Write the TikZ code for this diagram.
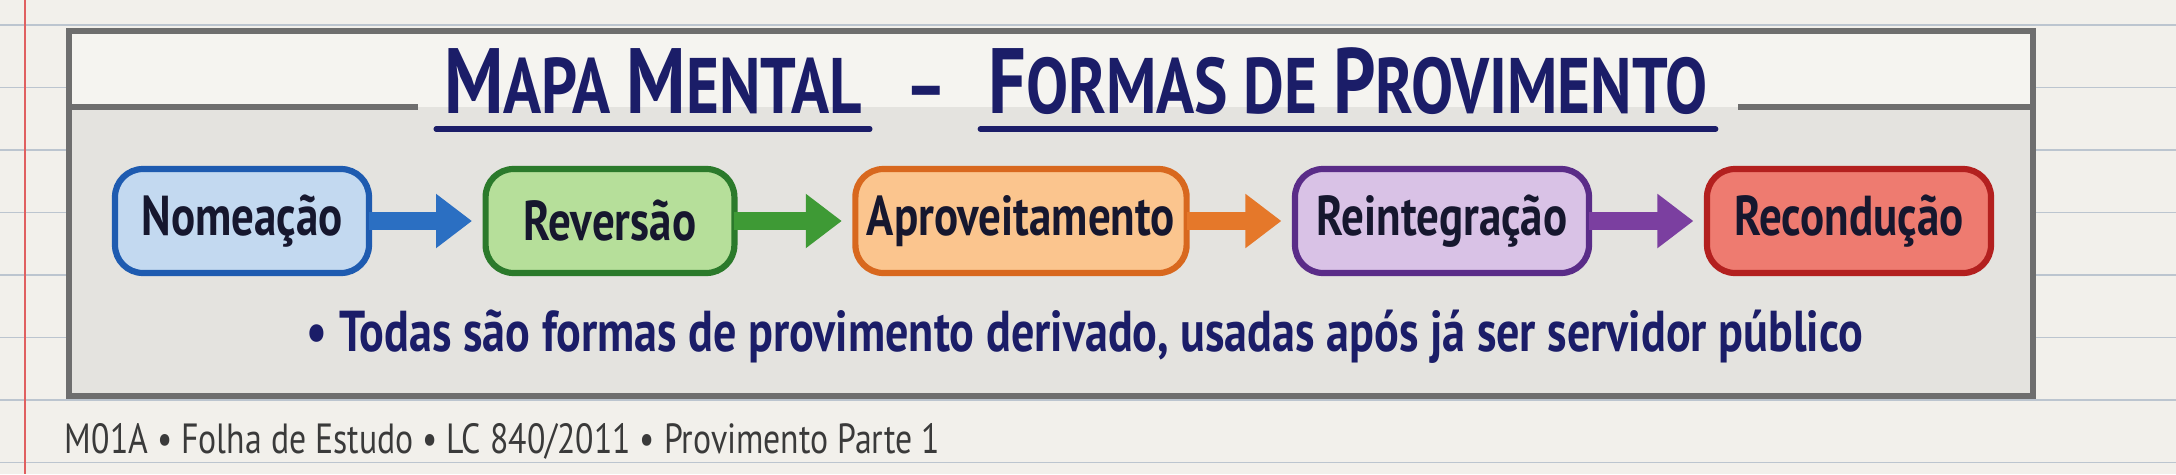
\documentclass[tikz,border=0pt]{standalone}
\usepackage{fontspec}
\setmainfont[FakeStretch=0.8]{PT Sans}
\usetikzlibrary{arrows.meta}

\definecolor{paper}{HTML}{F2F0EB}
\definecolor{rule}{HTML}{BCC5CF}
\definecolor{margin}{HTML}{E06060}
\definecolor{frame}{HTML}{6E6E6E}
\definecolor{headfill}{HTML}{F5F4F0}
\definecolor{bodyfill}{HTML}{E4E3DF}
\definecolor{ink}{HTML}{1B1D68}
\definecolor{txt}{HTML}{16172E}
\definecolor{footink}{HTML}{3A3A3A}
\definecolor{bluefill}{HTML}{C3D9F0}
\definecolor{blueline}{HTML}{1E5BB0}
\definecolor{bluearrow}{HTML}{2B6FC2}
\definecolor{greenfill}{HTML}{B6DF9A}
\definecolor{greenline}{HTML}{2B7A2B}
\definecolor{greenarrow}{HTML}{3E9A35}
\definecolor{orangefill}{HTML}{FBC58E}
\definecolor{orangeline}{HTML}{D8681E}
\definecolor{orangearrow}{HTML}{E5782A}
\definecolor{purplefill}{HTML}{D9C2E6}
\definecolor{purpleline}{HTML}{5A2C88}
\definecolor{purplearrow}{HTML}{7B3FA0}
\definecolor{redfill}{HTML}{EE7B70}
\definecolor{redline}{HTML}{B3201F}

\newcommand\initcap[1]{{\fontsize{33}{38}\selectfont #1}}

\begin{document}
\begin{tikzpicture}[x=0.125mm, y=-0.125mm, every node/.style={outer sep=0pt},
  box/.style={rounded corners=3.5mm, line width=2.2pt, minimum height=13mm, inner sep=0pt, text=txt, font=\fontsize{20}{24}\selectfont\bfseries},
  link/.style={line width=6.4pt, -{Triangle[length=4.5mm, width=6.5mm]}, shorten >=1.7mm},
  title/.style={text=ink, font=\fontsize{28}{32}\selectfont\bfseries, inner xsep=1mm, inner ysep=0pt},
  note/.style={text=ink, font=\fontsize{20.5}{24}\selectfont\bfseries},
  foot/.style={text=footink, font=\fontsize{15}{18}\selectfont, inner xsep=0pt}]
\useasboundingbox (0,0) rectangle (2176,474);
\fill[paper] (0,0) rectangle (2176,474);
\foreach \y in {25,87.5,...,462.5}
  \draw[rule, line width=0.6pt] (0,\y) -- (2176,\y);
\draw[margin, line width=0.8pt] (25,0) -- (25,474);

% quadro
\fill[bodyfill] (69,31) rectangle (2033,396);
\fill[headfill] (69,31) rectangle (2033,107);
\draw[frame, line width=2.2pt] (69,31) rectangle (2033,396);
\draw[frame, line width=1.8pt] (69,107) -- (418,107);
\draw[frame, line width=1.8pt] (1738,107) -- (2033,107);

% titulo
\node[title, anchor=base] (mapa) at (653,113) {\initcap{M}APA \initcap{M}ENTAL};
\node[title, anchor=base] (traco) at (926,113) {--};
\node[title, anchor=base] (formas) at (1348,113) {\initcap{F}ORMAS DE \initcap{P}ROVIMENTO};
\draw[ink, line width=1.9pt, line cap=round] ([yshift=-2mm]mapa.base west) -- ([yshift=-2mm]mapa.base east);
\draw[ink, line width=1.9pt, line cap=round] ([yshift=-2mm]formas.base west) -- ([yshift=-2mm]formas.base east);

% formas
\node[box, fill=bluefill, draw=blueline, minimum width=31.75mm] (nomeacao) at (242,221) {Nomeação};
\node[box, fill=greenfill, draw=greenline, minimum width=31.1mm] (reversao) at (610,221) {Reversão};
\node[box, fill=orangefill, draw=orangeline, minimum width=41.4mm] (aproveitamento) at (1021,221) {Aproveitamento};
\node[box, fill=purplefill, draw=purpleline, minimum width=36.75mm] (reintegracao) at (1442,221) {Reintegração};
\node[box, fill=redfill, draw=redline, minimum width=35.5mm] (reconducao) at (1849,221) {Recondução};

\draw[link, bluearrow] (nomeacao) -- (reversao);
\draw[link, greenarrow] (reversao) -- (aproveitamento);
\draw[link, orangearrow] (aproveitamento) -- (reintegracao);
\draw[link, purplearrow] (reintegracao) -- (reconducao);

\node[note] (nota) at (1085,337) {\textbullet\ Todas são formas de provimento derivado, usadas após já ser servidor público};
\node[foot, anchor=west] (rodape) at (65,441) {M01A \textbullet\ Folha de Estudo \textbullet\ LC 840/2011 \textbullet\ Provimento Parte 1};
\end{tikzpicture}
\end{document}
